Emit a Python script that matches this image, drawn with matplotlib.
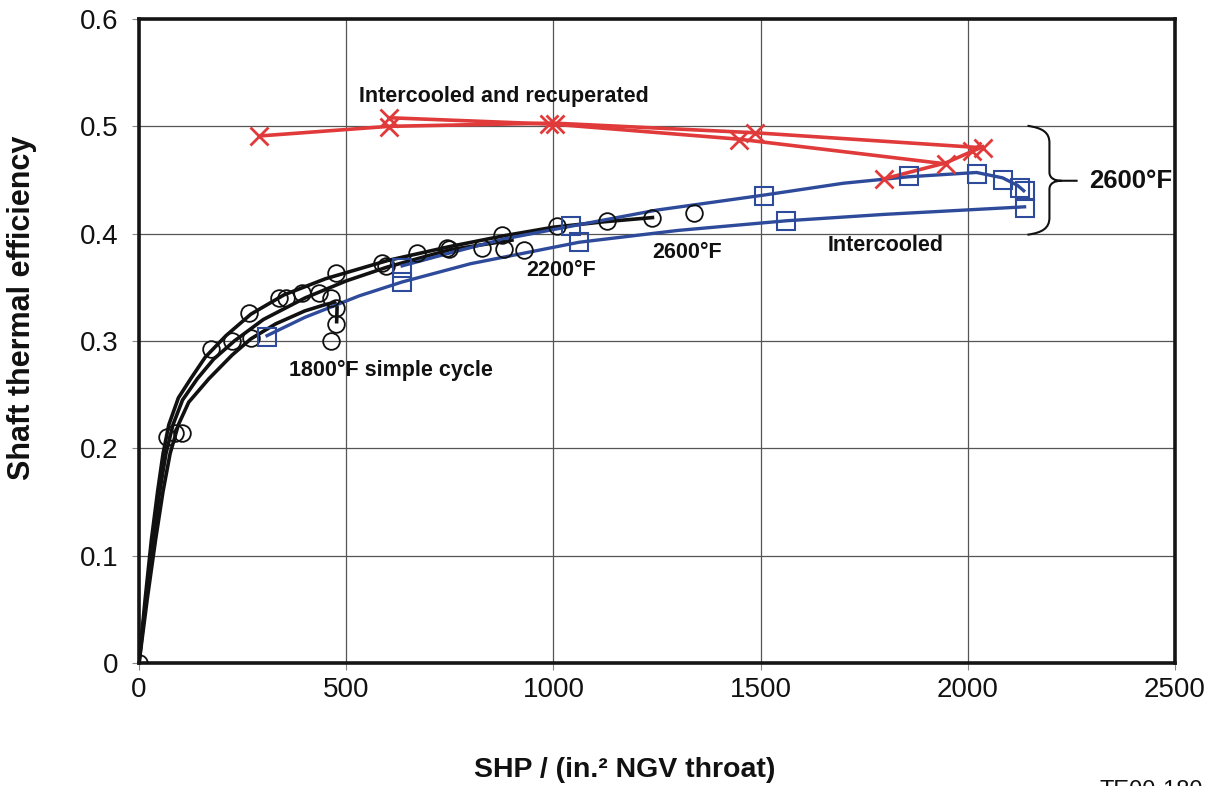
import numpy as np
import matplotlib
matplotlib.use("Agg")
import matplotlib.pyplot as plt
from matplotlib.path import Path
from matplotlib.patches import PathPatch

plt.rcParams['font.family'] = ['Liberation Sans', 'DejaVu Sans']

# measured points (open circles = simple cycle)
circ_x = [0, 68, 87, 104, 174, 225, 266, 270, 338, 355, 394, 435, 464, 476, 476, 476, 464,
          587, 596, 671, 744, 748, 828, 876, 881, 930, 1009, 1130, 1239, 1340]
circ_y = [0.0, 0.211, 0.214, 0.214, 0.293, 0.300, 0.326, 0.303, 0.340, 0.340, 0.345, 0.345, 0.340,
          0.363, 0.331, 0.316, 0.300, 0.373, 0.370, 0.382, 0.387, 0.386, 0.387, 0.399, 0.386,
          0.385, 0.407, 0.412, 0.415, 0.419]

# intercooled (squares)
sq_x = [309, 635, 635, 1043, 1062, 1509, 1562, 1857, 2021, 2084, 2125, 2137, 2137]
sq_y = [0.304, 0.368, 0.355, 0.407, 0.392, 0.435, 0.412, 0.454, 0.456, 0.450, 0.443, 0.440, 0.424]

# intercooled and recuperated (crosses)
cr_x = [290, 604, 604, 990, 1004, 1449, 1487, 1797, 1947, 2011, 2036]
cr_y = [0.491, 0.508, 0.499, 0.502, 0.502, 0.487, 0.494, 0.451, 0.465, 0.477, 0.480]

# fitted curves, simple cycle
sc1800_x = [0, 20, 40, 58, 75, 95, 120, 169, 225, 270, 330, 400, 450, 472, 478, 477]
sc1800_y = [0.0, 0.06, 0.115, 0.16, 0.195, 0.222, 0.243, 0.265, 0.287, 0.302, 0.316, 0.328,
            0.334, 0.336, 0.332, 0.318]
sc2200_x = [0, 17, 34, 50, 65, 82, 105, 141, 180, 230, 300, 400, 500, 600, 750, 900]
sc2200_y = [0.0, 0.06, 0.115, 0.16, 0.195, 0.222, 0.245, 0.265, 0.283, 0.300, 0.320, 0.340,
            0.356, 0.369, 0.385, 0.394]
sc2600_x = [0, 15, 30, 45, 58, 72, 95, 125, 160, 210, 270, 350, 450, 600, 750, 880, 1000,
            1120, 1239]
sc2600_y = [0.0, 0.06, 0.115, 0.16, 0.195, 0.222, 0.247, 0.265, 0.285, 0.305, 0.325, 0.343,
            0.358, 0.375, 0.388, 0.398, 0.406, 0.411, 0.415]

# fitted curves, intercooled
ic_lo_x = [309, 400, 531, 635, 800, 1062, 1300, 1562, 1800, 2137]
ic_lo_y = [0.305, 0.322, 0.342, 0.355, 0.372, 0.392, 0.403, 0.412, 0.418, 0.425]
ic_hi_x = [635, 750, 880, 1043, 1250, 1509, 1700, 1857, 2021, 2084, 2120, 2135]
ic_hi_y = [0.370, 0.382, 0.395, 0.407, 0.422, 0.436, 0.447, 0.453, 0.457, 0.452, 0.445, 0.440]

# fitted curves, intercooled and recuperated
icr_a_x = [290, 604, 1000, 1487, 2036]
icr_a_y = [0.491, 0.500, 0.503, 0.494, 0.480]
icr_b_x = [604, 1000, 1449, 1947]
icr_b_y = [0.508, 0.502, 0.488, 0.465]
icr_c_x = [1797, 1947, 2036]
icr_c_y = [0.451, 0.466, 0.481]

RED = '#e03a3a'
BLUE = '#2e4a9a'

fig = plt.figure(figsize=(12.17, 7.86), dpi=100)
ax = fig.add_axes([139/1217, 1-663/786, (1175-139)/1217, (663-19)/786])

for cx, cy in [(sc1800_x, sc1800_y), (sc2200_x, sc2200_y), (sc2600_x, sc2600_y)]:
    ax.plot(cx, cy, color='#111111', lw=2.6, zorder=3)
for cx, cy in [(ic_lo_x, ic_lo_y), (ic_hi_x, ic_hi_y)]:
    ax.plot(cx, cy, color=BLUE, lw=2.4, zorder=3)
for cx, cy in [(icr_a_x, icr_a_y), (icr_b_x, icr_b_y), (icr_c_x, icr_c_y)]:
    ax.plot(cx, cy, color=RED, lw=2.6, zorder=3)

ax.plot(circ_x, circ_y, 'o', ms=12, mfc='none', mec='#111111', mew=1.3, zorder=4)
ax.plot(sq_x, sq_y, 's', ms=13, mfc='none', mec=BLUE, mew=1.5, zorder=4)
ax.plot(cr_x, cr_y, 'x', ms=13, mec=RED, mew=2.0, zorder=4)

ax.set_xlim(0, 2500)
ax.set_ylim(0, 0.6)
ax.set_xticks(np.arange(0, 2501, 500))
ax.set_yticks(np.arange(0, 0.61, 0.1))
ax.set_yticklabels(['0', '0.1', '0.2', '0.3', '0.4', '0.5', '0.6'])
ax.grid(True, color='#555555', lw=0.9)
ax.set_axisbelow(True)
ax.tick_params(axis='both', direction='out', length=5, color='#888888', labelsize=20,
               labelcolor='#111111')
ax.tick_params(axis='y', pad=10)
ax.tick_params(axis='x', pad=5)
for sp in ax.spines.values():
    sp.set_linewidth(2.6)
    sp.set_color('#151515')

kw = dict(fontsize=15.5, fontweight='bold', color='#111111', ha='left', va='center')
ax.text(531, 0.528, 'Intercooled and recuperated', **kw)
ax.text(362, 0.2726, '1800°F simple cycle', **kw)
ax.text(934, 0.3656, '2200°F', **kw)
ax.text(1239, 0.3823, '2600°F', **kw)
ax.text(1661, 0.3888, 'Intercooled', **kw)
ax.text(2293, 0.4493, '2600°F', **dict(kw, fontsize=18.5))

# brace
x0, x1, x2, x3 = 2144, 2197, 2226, 2265
yt, ym, yb = 0.5005, 0.4493, 0.399
verts = [(x0, yt), (2180, yt - 0.002), (x1, yt - 0.006), (x1, yt - 0.016),
         (x1, ym + 0.008),
         (x1, ym + 0.002), (x2 - 15, ym), (x2, ym),
         (x3, ym),
         (x2, ym), (x2 - 15, ym), (x1, ym - 0.002), (x1, ym - 0.008),
         (x1, yb + 0.016),
         (x1, yb + 0.006), (2180, yb + 0.002), (x0, yb)]
codes = [Path.MOVETO, Path.CURVE4, Path.CURVE4, Path.CURVE4,
         Path.LINETO,
         Path.CURVE4, Path.CURVE4, Path.CURVE4,
         Path.LINETO,
         Path.MOVETO, Path.CURVE4, Path.CURVE4, Path.CURVE4,
         Path.LINETO,
         Path.CURVE4, Path.CURVE4, Path.CURVE4]
ax.add_patch(PathPatch(Path(verts, codes), fill=False, lw=1.5, ec='#111111', zorder=3,
                       clip_on=False))

fig.text(22/1217, 1-308/786, 'Shaft thermal efficiency', rotation=90, fontsize=22,
         fontweight='bold', ha='center', va='center', color='#111111')
fig.text(625/1217, 1-770/786, 'SHP / (in.² NGV throat)', fontsize=20.5,
         fontweight='bold', ha='center', va='center', color='#111111')
fig.text(1100/1217, 1-780/786, 'TE00-180', fontsize=17, ha='left', va='top', color='#111111')

fig.savefig('out.png', dpi=100)
